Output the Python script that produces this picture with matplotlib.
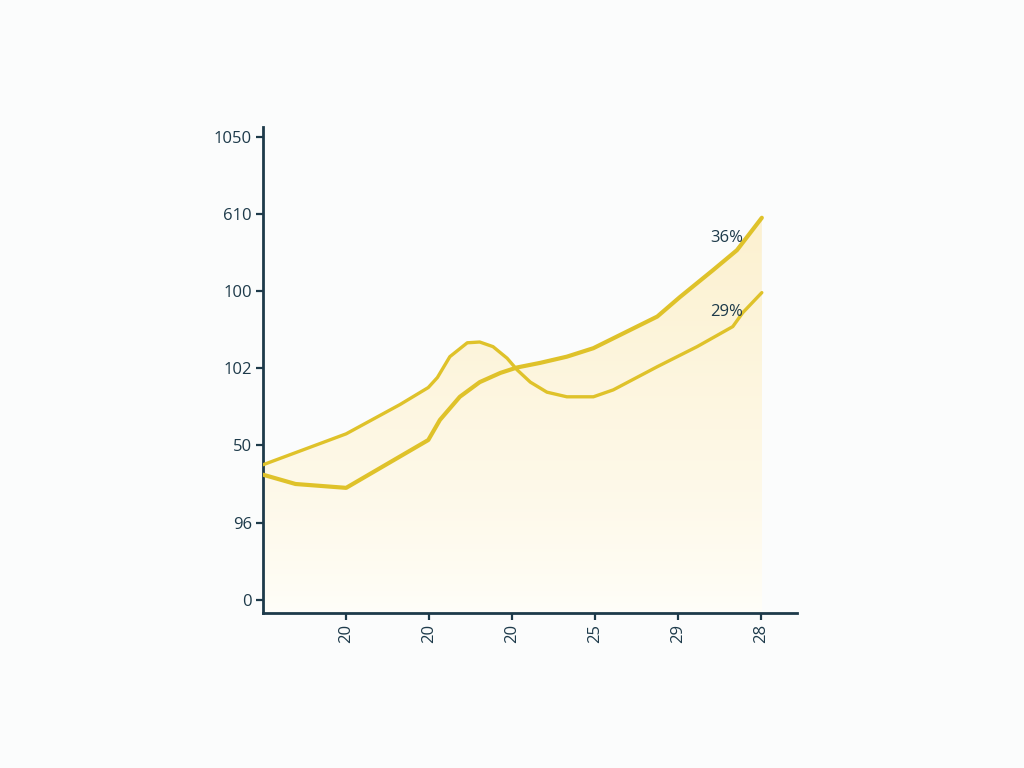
import numpy as np
import matplotlib
matplotlib.use("Agg")
import matplotlib.pyplot as plt
from matplotlib.path import Path
from matplotlib.patches import PathPatch

plt.rcParams['font.family'] = ['Open Sans', 'DejaVu Sans']

# tick labels as they appear on the chart
y_labels = ['0', '96', '50', '102', '100', '610', '1050']
x_labels = ['20', '20', '20', '25', '29', '28']

# series (x in tick units, y in tick units)
a_x = [0.00, 1.00, 1.65, 1.99, 2.10, 2.25, 2.46, 2.61, 2.77, 2.94, 3.06, 3.22,
       3.42, 3.66, 3.98, 4.22, 4.75, 5.23, 5.66, 5.78, 6.01]
a_y = [1.75, 2.15, 2.53, 2.75, 2.88, 3.15, 3.33, 3.34, 3.28, 3.13, 2.98, 2.82,
       2.69, 2.63, 2.63, 2.72, 3.02, 3.28, 3.54, 3.72, 3.98]

b_x = [0.00, 0.39, 1.00, 1.99, 2.13, 2.37, 2.61, 2.86, 3.06, 3.34, 3.66, 3.98,
       4.75, 5.02, 5.42, 5.71, 6.01]
b_y = [1.62, 1.50, 1.45, 2.07, 2.33, 2.63, 2.82, 2.94, 3.01, 3.07, 3.15, 3.26,
       3.67, 3.92, 4.27, 4.53, 4.95]

labels = ['36%', '29%']
label_pos = [(5.59, 4.69), (5.59, 3.73)]

ink = '#1d3a4a'
gold = '#dfc22a'

fig = plt.figure(figsize=(10.24, 7.68), dpi=100, facecolor='#fbfcfc')
ax = fig.add_axes([0.257, 0.202, 0.521, 0.633])
ax.set_facecolor('none')
ax.set_xlim(0, 6.43)
ax.set_ylim(-0.17, 6.13)

# cream gradient under both curves
bottom = -0.17
verts, codes = [], []
for xs, ys in ((a_x, a_y), (b_x, b_y)):
    poly = [(xs[0], bottom)] + list(zip(xs, ys)) + [(xs[-1], bottom), (xs[0], bottom)]
    verts += poly
    codes += [Path.MOVETO] + [Path.LINETO] * (len(poly) - 2) + [Path.CLOSEPOLY]
clip = PathPatch(Path(verts, codes), facecolor='none', edgecolor='none',
                 transform=ax.transData)
ax.add_patch(clip)
grad = np.linspace(0, 1, 256).reshape(-1, 1)
top_c = np.array([252, 241, 208]) / 255
bot_c = np.array([255, 254, 249]) / 255
img = bot_c + (top_c - bot_c) * grad ** 0.8
img = img.reshape(256, 1, 3)
im = ax.imshow(img, extent=[0, 6.01, bottom, 5.0], origin='lower',
               aspect='auto', zorder=1)
im.set_clip_path(clip)

ax.plot(a_x, a_y, color=gold, lw=2.4, solid_joinstyle='round',
        solid_capstyle='round', zorder=3)
ax.plot(b_x, b_y, color=gold, lw=3.0, solid_joinstyle='round',
        solid_capstyle='round', zorder=3)

for txt, (px, py) in zip(labels, label_pos):
    ax.text(px, py, txt, ha='center', va='center', fontsize=12, color=ink, zorder=4)

ax.set_yticks(range(len(y_labels)))
ax.set_yticklabels(y_labels)
ax.set_xticks(range(1, len(x_labels) + 1))
ax.set_xticklabels(x_labels, rotation=90)
ax.tick_params(colors=ink, labelcolor=ink, labelsize=12, length=5, width=1.6, pad=3)

for s in ('top', 'right'):
    ax.spines[s].set_visible(False)
for s in ('left', 'bottom'):
    ax.spines[s].set_color(ink)
    ax.spines[s].set_linewidth(2)

fig.savefig('out.png', dpi=100, facecolor=fig.get_facecolor())
